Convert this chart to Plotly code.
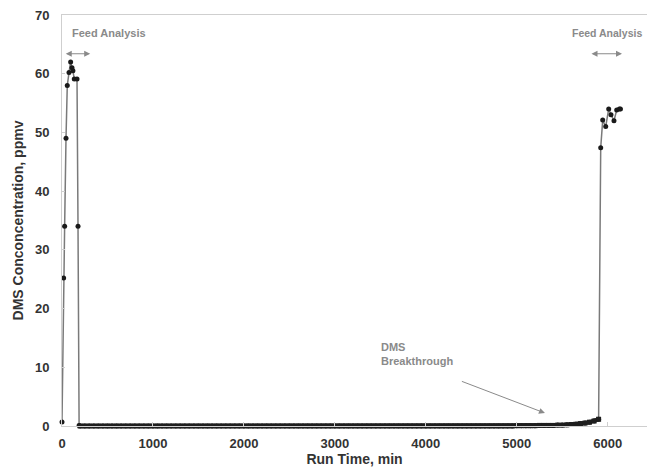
import plotly.graph_objects as go

# Feed analysis at start of run
start_time = [0, 18, 29, 44, 58, 77, 95, 110, 120, 135, 165, 176, 188]
start_dms = [0.7, 25.2, 34.0, 49.0, 58.0, 60.2, 62.0, 61.0, 60.5, 59.1, 59.1, 34.0, 0.1]

# Sorbent bed outlet, sampled every 50 min
bed_time = [
    200, 250, 300, 350, 400, 450, 500, 550, 600, 650, 700, 750, 800, 850, 900, 950,
    1000, 1050, 1100, 1150, 1200, 1250, 1300, 1350, 1400, 1450, 1500, 1550, 1600, 1650,
    1700, 1750, 1800, 1850, 1900, 1950, 2000, 2050, 2100, 2150, 2200, 2250, 2300, 2350,
    2400, 2450, 2500, 2550, 2600, 2650, 2700, 2750, 2800, 2850, 2900, 2950, 3000, 3050,
    3100, 3150, 3200, 3250, 3300, 3350, 3400, 3450, 3500, 3550, 3600, 3650, 3700, 3750,
    3800, 3850, 3900, 3950, 4000, 4050, 4100, 4150, 4200, 4250, 4300, 4350, 4400, 4450,
    4500, 4550, 4600, 4650, 4700, 4750, 4800, 4850, 4900, 4950, 5000, 5050, 5100, 5150,
    5200, 5250, 5300, 5350, 5400, 5450, 5500, 5550, 5600, 5650, 5700, 5750, 5800, 5850,
    5900,
]
bed_dms = [
    0.0, 0.0, 0.0, 0.0, 0.0, 0.0, 0.0, 0.0, 0.0, 0.0, 0.0, 0.0, 0.0, 0.0, 0.0, 0.0,
    0.0, 0.0, 0.0, 0.0, 0.0, 0.0, 0.0, 0.0, 0.0, 0.0, 0.0, 0.0, 0.0, 0.0,
    0.0, 0.0, 0.0, 0.0, 0.0, 0.0, 0.0, 0.0, 0.0, 0.0, 0.0, 0.0, 0.0, 0.0,
    0.0, 0.0, 0.0, 0.0, 0.0, 0.0, 0.0, 0.0, 0.0, 0.0, 0.0, 0.0, 0.0, 0.0,
    0.0, 0.0, 0.0, 0.0, 0.0, 0.0, 0.0, 0.0, 0.0, 0.0, 0.0, 0.0, 0.0, 0.0,
    0.0, 0.0, 0.0, 0.0, 0.0, 0.0, 0.0, 0.0, 0.0, 0.0, 0.0, 0.0, 0.0, 0.0,
    0.0, 0.0, 0.0, 0.0, 0.0, 0.0, 0.0, 0.0, 0.0, 0.0, 0.05, 0.05, 0.05, 0.05,
    0.05, 0.1, 0.1, 0.1, 0.1, 0.15, 0.15, 0.2, 0.25, 0.3, 0.4, 0.5, 0.65, 0.85,
    1.15,
]

# Feed analysis at end of run
end_time = [5923, 5945, 5978, 6011, 6036, 6069, 6099, 6128, 6140]
end_dms = [47.4, 52.1, 51.0, 54.0, 53.0, 52.0, 53.8, 54.0, 54.0]

x_ticks = [0, 1000, 2000, 3000, 4000, 5000, 6000]
y_ticks = [0, 10, 20, 30, 40, 50, 60, 70]

run_time = start_time + bed_time + end_time
dms = start_dms + bed_dms + end_dms

FONT = "Liberation Sans, Arial, sans-serif"
NOTE = "#8a8a8a"
INK = "#333333"

fig = go.Figure()
# whole run: thin grey connector with dark sample markers
fig.add_trace(go.Scatter(
    x=run_time, y=dms, mode="lines+markers",
    line=dict(color="#7a7a7a", width=1.5),
    marker=dict(color="#1a1a1a", size=5, symbol="circle"),
    cliponaxis=False, showlegend=False, hoverinfo="x+y",
))
# densely sampled bed outlet reads as a solid dark band
fig.add_trace(go.Scatter(
    x=bed_time, y=bed_dms, mode="lines+markers",
    line=dict(color="#1e1e1e", width=4),
    marker=dict(color="#1e1e1e", size=5, symbol="square"),
    cliponaxis=False, showlegend=False, hoverinfo="skip",
))

annotations = [
    dict(x=90, y=66.9, xref="x", yref="y", text="<b>Feed Analysis</b>", showarrow=False,
         xanchor="left", yanchor="middle", font=dict(family=FONT, size=11, color=NOTE)),
    dict(x=5590, y=66.9, xref="x", yref="y", text="<b>Feed Analysis</b>", showarrow=False,
         xanchor="left", yanchor="middle", font=dict(family=FONT, size=10.5, color=NOTE)),
    dict(x=3480, y=12.2, xref="x", yref="y", text="<b>DMS<br>Breakthrough</b>", showarrow=False,
         xanchor="left", yanchor="middle", align="left",
         font=dict(family=FONT, size=11, color=NOTE)),
    # breakthrough pointer
    dict(x=5310, y=2.2, ax=4380, ay=7.7, xref="x", yref="y", axref="x", ayref="y",
         text="", showarrow=True, arrowhead=2, arrowsize=1.2, arrowwidth=1, arrowcolor=NOTE),
]
# double-headed spans over the feed analysis periods
for a, b in [(25, 310), (5805, 6157)]:
    annotations.append(dict(x=b, y=63.4, ax=a, ay=63.4, xref="x", yref="y", axref="x", ayref="y",
                            text="", showarrow=True, arrowhead=2, startarrowhead=2,
                            arrowside="end+start", arrowsize=1.2, startarrowsize=1.2,
                            arrowwidth=1, arrowcolor=NOTE))

fig.update_layout(
    width=647, height=472,
    margin=dict(l=62, r=0, t=15, b=46),
    paper_bgcolor="white", plot_bgcolor="white",
    font=dict(family=FONT, color=INK),
    annotations=annotations,
    xaxis=dict(
        range=[0, 6432], tickvals=x_ticks, ticktext=[f"<b>{v}</b>" for v in x_ticks],
        showgrid=False, zeroline=False, showline=True, linecolor="#cfcfcf", linewidth=1,
        mirror=True, ticks="inside", ticklen=4, tickcolor="#cfcfcf",
        ticklabelstandoff=5,
        tickfont=dict(family=FONT, size=13, color=INK),
        title=dict(text="<b>Run Time, min</b>", font=dict(family=FONT, size=14, color=INK),
                   standoff=2),
    ),
    yaxis=dict(
        range=[0, 70], tickvals=y_ticks, ticktext=[f"<b>{v}</b>" for v in y_ticks],
        showgrid=False, zeroline=False, showline=True, linecolor="#cfcfcf", linewidth=1,
        ticks="inside", ticklen=3, tickcolor="#cfcfcf",
        ticklabelstandoff=9,
        tickfont=dict(family=FONT, size=13, color=INK),
        title=dict(text="<b>DMS Conconcentration, ppmv</b>",
                   font=dict(family=FONT, size=14, color=INK), standoff=8),
    ),
)

fig.write_html("out.html")
